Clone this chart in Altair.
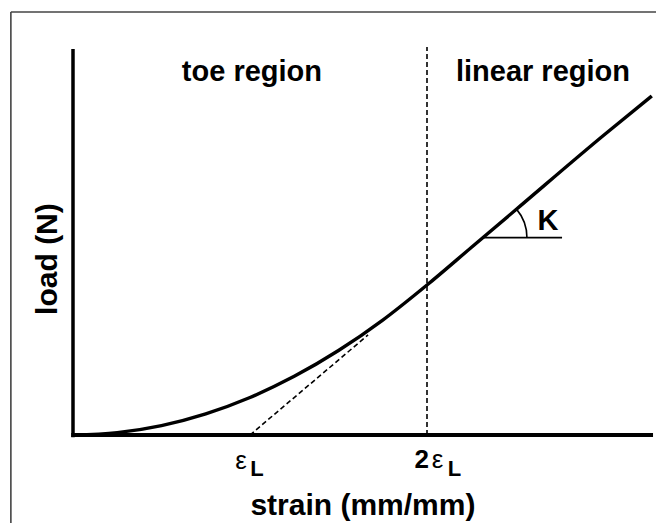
import altair as alt
import pandas as pd

# --- data (strain in units of eps_L, load in arbitrary units) ---
strain = [0.0, 0.25, 0.5, 0.75, 1.0, 1.25, 1.5, 1.75, 2.0, 2.25, 2.5, 3.0, 3.27]
load = [0.0, 0.016, 0.063, 0.141, 0.25, 0.391, 0.563, 0.766, 1.0, 1.25, 1.5, 2.0, 2.26]

tangent_x = [1.0, 1.667]
tangent_y = [0.0, 0.667]

divider_x = 2.0
divider_top = 2.587

axis_x_end = 3.277
axis_y_end = 2.573

k_point = (2.316, 1.316)
k_hline_end = 2.763

frame_corner = (-0.351, 2.82)

XDOM = [-0.36723, 3.29379]
YDOM = [-0.58667, 2.84667]
xs = alt.Scale(domain=XDOM, nice=False, zero=False)
ys = alt.Scale(domain=YDOM, nice=False, zero=False)

def X(f="x"):
    return alt.X(f"{f}:Q", scale=xs, axis=None)

def Y(f="y"):
    return alt.Y(f"{f}:Q", scale=ys, axis=None)

# frame (top and left edges visible)
frame = pd.DataFrame({
    "x": [frame_corner[0], frame_corner[0]],
    "y": [frame_corner[1], frame_corner[1]],
    "x2": [XDOM[1], frame_corner[0]],
    "y2": [frame_corner[1], YDOM[0]],
})
frame_layer = alt.Chart(frame).mark_rule(color="#444444", strokeWidth=1.6).encode(
    x=X(), y=Y(), x2="x2:Q", y2="y2:Q")

axes = pd.DataFrame({
    "x": [0.0, -0.01], "y": [-0.015, 0.0],
    "x2": [0.0, axis_x_end], "y2": [axis_y_end, 0.0],
})
yaxis_layer = alt.Chart(axes.iloc[[0]]).mark_rule(color="black", strokeWidth=3.5).encode(
    x=X(), y=Y(), x2="x2:Q", y2="y2:Q")
xaxis_layer = alt.Chart(axes.iloc[[1]]).mark_rule(color="black", strokeWidth=4).encode(
    x=X(), y=Y(), x2="x2:Q", y2="y2:Q")

curve = pd.DataFrame({"x": strain, "y": load})
curve_layer = alt.Chart(curve).mark_line(color="black", strokeWidth=3.4, interpolate="monotone").encode(
    x=X(), y=Y())

tan = pd.DataFrame({"x": tangent_x, "y": tangent_y})
tan_layer = alt.Chart(tan).mark_line(color="black", strokeWidth=1.6, strokeDash=[5, 3]).encode(
    x=X(), y=Y())

div = pd.DataFrame({"x": [divider_x], "y": [0.0], "y2": [divider_top]})
div_layer = alt.Chart(div).mark_rule(color="black", strokeWidth=1.6, strokeDash=[5, 3]).encode(
    x=X(), y=Y(), y2="y2:Q")

kh = pd.DataFrame({"x": [k_point[0]], "x2": [k_hline_end], "y": [k_point[1]]})
kh_layer = alt.Chart(kh).mark_rule(color="black", strokeWidth=1.6).encode(
    x=X(), x2="x2:Q", y=Y())

karc = pd.DataFrame({"x": [k_point[0]], "y": [k_point[1]]})
karc_layer = alt.Chart(karc).mark_arc(color="black", innerRadius=43.2, outerRadius=44.8,
                                      theta=0.867, theta2=1.5708).encode(x=X(), y=Y())

FONT = "Liberation Sans"

regions = pd.DataFrame({
    "x": [1.011, 2.655],
    "y": [2.42, 2.42],
    "t": ["toe region", "linear region"],
})
regions_layer = alt.Chart(regions).mark_text(font=FONT, fontWeight="bold", fontSize=29, baseline="middle",
                                             align="center", color="black").encode(x=X(), y=Y(), text="t:N")

xlab = pd.DataFrame({"x": [1.638], "y": [-0.473], "t": ["strain (mm/mm)"]})
xlab_layer = alt.Chart(xlab).mark_text(font=FONT, fontWeight="bold", fontSize=30, baseline="middle",
                                       align="center", color="black").encode(x=X(), y=Y(), text="t:N")

ylab = pd.DataFrame({"x": [-0.141], "y": [1.173], "t": ["load (N)"]})
ylab_layer = alt.Chart(ylab).mark_text(font=FONT, fontWeight="bold", fontSize=30, baseline="middle",
                                       align="center", angle=270, color="black").encode(x=X(), y=Y(), text="t:N")

klab = pd.DataFrame({"x": [2.684], "y": [1.367], "t": ["K"]})
klab_layer = alt.Chart(klab).mark_text(font=FONT, fontWeight="bold", fontSize=29, baseline="alphabetic",
                                       align="center", color="black").encode(x=X(), y=Y(), text="t:N")

eps = pd.DataFrame({"x": [0.95, 2.06], "y": [-0.225, -0.22], "t": ["ε", "ε"]})
eps_layer = alt.Chart(eps).mark_text(font=FONT, fontSize=26, baseline="alphabetic",
                                     align="center", color="black").encode(x=X(), y=Y(), text="t:N")

two = pd.DataFrame({"x": [1.97], "y": [-0.22], "t": ["2"]})
two_layer = alt.Chart(two).mark_text(font=FONT, fontWeight="bold", fontSize=26, baseline="alphabetic",
                                     align="center", color="black").encode(x=X(), y=Y(), text="t:N")

sub = pd.DataFrame({"x": [1.04, 2.155], "y": [-0.273, -0.273], "t": ["L", "L"]})
sub_layer = alt.Chart(sub).mark_text(font=FONT, fontWeight="bold", fontSize=22, baseline="alphabetic",
                                     align="center", color="black").encode(x=X(), y=Y(), text="t:N")

chart = alt.layer(
    frame_layer, div_layer, tan_layer, curve_layer, yaxis_layer, xaxis_layer,
    kh_layer, karc_layer, regions_layer, xlab_layer, ylab_layer, klab_layer,
    eps_layer, two_layer, sub_layer,
).properties(
    width=648, height=515, padding=0,
    autosize=alt.AutoSizeParams(type="none"),
    background="white",
).configure_view(stroke=None)

chart.save("out.html", embed_options={"renderer": "svg", "actions": False})
